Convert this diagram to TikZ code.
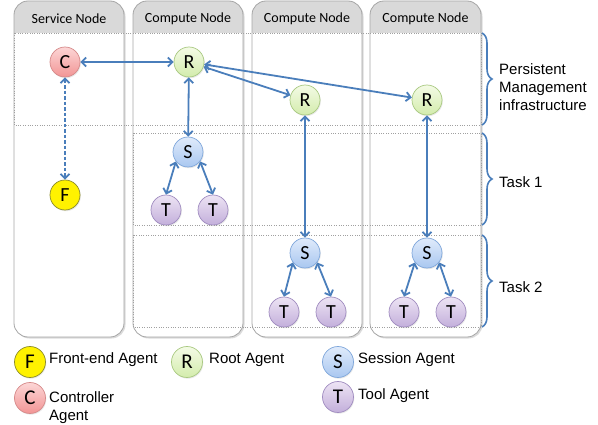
\documentclass[tikz,border=0pt]{standalone}
\usepackage{fontspec}
\setmainfont{Liberation Sans}
\newfontfamily\carlito{Carlito}
\usetikzlibrary{arrows.meta,decorations.pathreplacing,shadows}
\definecolor{arrowblue}{HTML}{4A7EBB}
\definecolor{hdrgray}{HTML}{D9D9D9}
\definecolor{colborder}{HTML}{A6A6A6}
\definecolor{dotgray}{HTML}{A0A0A0}
\definecolor{ctop}{HTML}{FCD6D6}\definecolor{cbot}{HTML}{F29595}\definecolor{cbrd}{HTML}{D68A8A}
\definecolor{rtop}{HTML}{F4FBE6}\definecolor{rbot}{HTML}{D3ECAC}\definecolor{rbrd}{HTML}{A9C981}
\definecolor{stop}{HTML}{E0EBFB}\definecolor{sbot}{HTML}{A9C7F0}\definecolor{sbrd}{HTML}{7FA7DB}
\definecolor{ttop}{HTML}{EDE4F4}\definecolor{tbot}{HTML}{C3AFDB}\definecolor{tbrd}{HTML}{A08CC0}
\definecolor{fbrd}{HTML}{8C8C2A}
\begin{document}
\begin{tikzpicture}[x=1pt,y=-1pt,
  agent/.style={circle, minimum size=30pt, inner sep=0pt, line width=0.7pt,
    font=\carlito\fontsize{20pt}{20pt}\selectfont,
    drop shadow={opacity=0.18, shadow xshift=0.8pt, shadow yshift=-1.2pt}},
  legagent/.style={agent, minimum size=31pt, font=\carlito\fontsize{21pt}{21pt}\selectfont},
  cstyle/.style={draw=cbrd, top color=ctop, bottom color=cbot},
  rstyle/.style={draw=rbrd, top color=rtop, bottom color=rbot},
  sstyle/.style={draw=sbrd, top color=stop, bottom color=sbot},
  tstyle/.style={draw=tbrd, top color=ttop, bottom color=tbot},
  fstyle/.style={draw=fbrd, fill=yellow},
  conn/.style={draw=arrowblue, line width=1.8pt,
    {Straight Barb[length=4.5pt,width=9pt]}-{Straight Barb[length=4.5pt,width=9pt]}},
  dconn/.style={conn, dash pattern=on 3.5pt off 2pt},
  dotline/.style={draw=dotgray, line width=0.8pt, dash pattern=on 0.8pt off 1.6pt},
  bracestyle/.style={draw=arrowblue, line width=1.6pt, decorate,
    decoration={brace, amplitude=10pt}},
  hdrtext/.style={font=\carlito\fontsize{14pt}{14pt}\selectfont, inner sep=0pt},
  sidetext/.style={anchor=west, inner sep=0pt, align=left,
    font=\fontsize{15pt}{18pt}\selectfont},
  legtext/.style={anchor=west, inner sep=0pt, font=\fontsize{15pt}{18pt}\selectfont}
]
\useasboundingbox (0,0) rectangle (598,425);

% columns
\foreach \xa/\xb/\lab [count=\i] in {14/124/Service Node,133/243/Compute Node,252/362/Compute Node,370/481/Compute Node} {
  \fill[black!14, rounded corners=14pt] (\xa+1.5,2.5) rectangle (\xb+1.5,338.5);
  \begin{scope}
    \clip[rounded corners=14pt] (\xa,1) rectangle (\xb,337);
    \fill[white] (\xa,1) rectangle (\xb,337);
    \fill[hdrgray] (\xa,0) rectangle (\xb,33);
  \end{scope}
  \draw[colborder, line width=0.8pt, rounded corners=14pt] (\xa,1) rectangle (\xb,337);
  \node[hdrtext] (hdr\i) at ({(\xa+\xb)/2},19) {\lab};
}

% regions
\draw[dotline] (14,33) rectangle (481,125);
\draw[dotline] (133,133) rectangle (481,225);
\draw[dotline] (133,235) rectangle (481,327);

% braces
\coordinate (b1t) at (482,33);  \coordinate (b1b) at (482,125);
\coordinate (b2t) at (482,133); \coordinate (b2b) at (482,225);
\coordinate (b3t) at (482,235); \coordinate (b3b) at (482,327);
\draw[bracestyle] (b1t) -- (b1b);
\draw[bracestyle] (b2t) -- (b2b);
\draw[bracestyle] (b3t) -- (b3b);
\node[sidetext] (pmi) at (499,87) {Persistent\\Management\\infrastructure};
\node[sidetext] (task1) at (499,182) {Task 1};
\node[sidetext] (task2) at (499,287) {Task 2};

% agents
\node[agent,cstyle] (C) at (65,62) {C};
\node[agent,rstyle] (R1) at (189,62) {R};
\node[agent,fstyle] (F) at (65,195) {F};
\node[agent,sstyle] (S1) at (188,152) {S};
\node[agent,tstyle] (T1a) at (166,210) {T};
\node[agent,tstyle] (T1b) at (213,210) {T};
\node[agent,rstyle] (R2) at (305,100) {R};
\node[agent,rstyle] (R3) at (427,100) {R};
\node[agent,sstyle] (S2) at (305,253) {S};
\node[agent,tstyle] (T2a) at (284,312) {T};
\node[agent,tstyle] (T2b) at (331,312) {T};
\node[agent,sstyle] (S3) at (427,253) {S};
\node[agent,tstyle] (T3a) at (404,312) {T};
\node[agent,tstyle] (T3b) at (451,312) {T};

% connectors
\draw[conn] (C) -- (R1);
\draw[dconn] (C) -- (F);
\draw[conn] (R1) -- (S1);
\draw[conn] (R1) -- (R2);
\draw[conn] (R1) -- (R3);
\draw[conn] (R2) -- (S2);
\draw[conn] (R3) -- (S3);
\draw[conn] (S1.218) -- (T1a.north);
\draw[conn] (S1.322) -- (T1b.north);
\draw[conn] (S2.218) -- (T2a.north);
\draw[conn] (S2.322) -- (T2b.north);
\draw[conn] (S3.218) -- (T3a.north);
\draw[conn] (S3.322) -- (T3b.north);

% legend
\node[legagent,fstyle] (LF) at (30,362) {F};
\node[legtext] (LFt) at (49,360) {Front-end Agent};
\node[legagent,rstyle] (LR) at (187,362) {R};
\node[legtext] (LRt) at (209,360) {Root Agent};
\node[legagent,sstyle] (LS) at (338,362) {S};
\node[legtext] (LSt) at (358,360) {Session Agent};
\node[legagent,cstyle] (LC) at (30,398) {C};
\node[legtext, align=left, anchor=north west] (LCt) at (49,391) {Controller\\Agent};
\node[legagent,tstyle] (LT) at (338,397) {T};
\node[legtext] (LTt) at (358,396) {Tool Agent};
\end{tikzpicture}
\end{document}
